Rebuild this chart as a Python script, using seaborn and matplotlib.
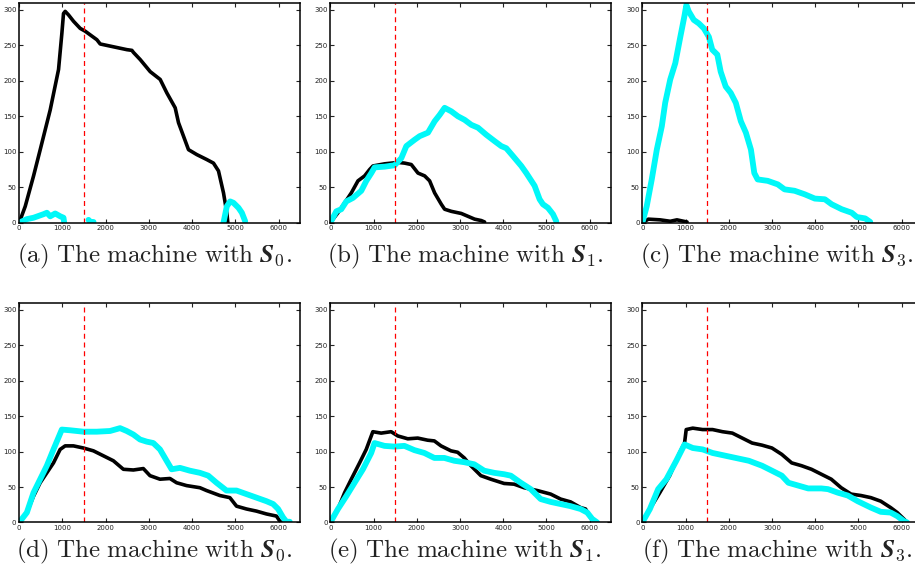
import numpy as np
import pandas as pd
import seaborn as sns
import matplotlib.pyplot as plt

sns.set_style("ticks")
plt.rcParams["mathtext.fontset"] = "cm"
plt.rcParams["font.family"] = ["DejaVu Sans"]

# ---- (a) machine with S0, first run ----
a_black_x = [0, 139, 332, 486, 717, 910, 987, 1025, 1064, 1141, 1257, 1411, 1527, 1797, 1874,
             2183, 2491, 2607, 2645, 2800, 3031, 3262, 3416, 3609, 3686, 3917, 4110, 4341,
             4495, 4611, 4727, 4804, 4827]
a_black_y = [0, 23, 66, 103, 159, 216, 267, 295, 298, 293, 284, 274, 270, 258, 252,
             248, 244, 243, 240, 230, 213, 202, 183, 162, 141, 103, 96, 89,
             84, 73, 42, 14, 0]
a_cyan_x = [0, 177, 332, 563, 640, 717, 833, 949, 1025, 1041,
            1604, 1650, 1720,
            4727, 4804, 4881, 4958, 5074, 5152, 5229]
a_cyan_y = [0, 5, 7, 12, 14, 9, 13, 9, 7, 0,
            4, 1, 1,
            0, 23, 30, 28, 21, 14, 2]
a_cyan_seg = [0] * 10 + [1] * 3 + [2] * 7

# ---- (b) machine with S1, first run ----
b_black_x = [0, 177, 332, 486, 640, 794, 910, 987, 1257, 1566, 1720, 1874, 2028, 2183, 2298,
             2414, 2568, 2645, 2800, 3031, 3185, 3339, 3493, 3570]
b_black_y = [0, 14, 28, 42, 59, 66, 75, 80, 83, 85, 84, 82, 70, 66, 59,
             42, 26, 19, 16, 13, 9, 5, 3, 1]
b_cyan_x = [0, 139, 254, 370, 525, 717, 833, 949, 1025, 1257, 1488, 1643, 1759, 1951, 2067,
            2260, 2414, 2530, 2645, 2800, 2954, 3108, 3262, 3416, 3609, 3802, 3956, 4072,
            4226, 4419, 4535, 4727, 4843, 4920, 5036, 5152, 5229]
b_cyan_y = [0, 16, 19, 30, 35, 45, 59, 70, 78, 79, 81, 91, 108, 117, 122,
            127, 143, 152, 162, 157, 150, 145, 138, 134, 124, 115, 108, 105,
            94, 80, 70, 52, 33, 26, 21, 12, 2]

# ---- (c) machine with S3, first run ----
c_black_x = [0, 140, 412, 646, 801, 1035]
c_black_y = [0, 5, 4, 2, 4, 1]
c_cyan_x = [0, 101, 218, 335, 451, 529, 646, 763, 879, 973, 1019, 1074, 1190, 1307, 1424,
            1540, 1618, 1735, 1813, 1929, 2046, 2163, 2280, 2396, 2513, 2591, 2668, 2902,
            3135, 3291, 3524, 3758, 3991, 4224, 4380, 4613, 4846, 4963, 5158, 5274]
c_cyan_y = [0, 23, 61, 103, 136, 169, 202, 225, 262, 291, 307, 298, 286, 281, 274,
            262, 244, 237, 213, 192, 183, 169, 143, 127, 103, 70, 61, 59,
            54, 47, 45, 40, 34, 33, 26, 19, 14, 8, 6, 1]

# ---- (d) machine with S0, second run ----
d_black_x = [0, 177, 331, 485, 639, 793, 947, 1063, 1255, 1486, 1717, 1948, 2179, 2410, 2641,
             2872, 3026, 3257, 3488, 3642, 3873, 4181, 4335, 4643, 4874, 5028, 5259, 5490,
             5721, 5952, 6029, 6068]
d_black_y = [0, 14, 37, 56, 70, 84, 103, 108, 108, 105, 101, 94, 87, 75, 74,
             76, 66, 61, 62, 56, 52, 49, 45, 38, 35, 23, 19, 16,
             12, 9, 2, 0]
d_cyan_x = [0, 177, 331, 485, 639, 793, 986, 1178, 1486, 1794, 2102, 2333, 2487, 2641, 2795,
            2949, 3103, 3257, 3411, 3527, 3719, 3950, 4181, 4374, 4566, 4797, 5028, 5259,
            5490, 5721, 5875, 5991, 6106, 6183, 6260]
d_cyan_y = [0, 14, 42, 61, 80, 103, 131, 130, 128, 128, 129, 133, 129, 124, 117,
            114, 112, 103, 87, 75, 77, 73, 70, 66, 56, 45, 45, 40,
            35, 30, 26, 19, 7, 1, 1]

# ---- (e) machine with S1, second run ----
e_black_x = [0, 177, 331, 485, 677, 831, 984, 1177, 1407, 1561, 1792, 2023, 2253, 2407, 2561,
             2792, 2946, 3100, 3253, 3484, 3714, 4022, 4253, 4484, 4791, 5099, 5329, 5560,
             5791, 5906, 6021, 6175]
e_black_y = [0, 19, 42, 61, 84, 103, 128, 126, 128, 122, 118, 119, 116, 115, 108,
             101, 99, 91, 80, 66, 61, 55, 54, 49, 45, 40, 33, 29,
             21, 19, 7, 0]
e_cyan_x = [0, 177, 369, 561, 754, 946, 1023, 1254, 1484, 1715, 1946, 2176, 2407, 2638, 2869,
            3099, 3330, 3561, 3791, 4022, 4176, 4407, 4637, 4868, 5099, 5329, 5560, 5791,
            5945, 6060, 6175]
e_cyan_y = [0, 19, 37, 56, 75, 98, 112, 108, 107, 108, 102, 98, 91, 91, 87,
            85, 82, 73, 70, 68, 66, 56, 47, 33, 29, 26, 23, 19,
            14, 5, 0]

# ---- (f) machine with S3, second run ----
f_black_x = [0, 175, 404, 633, 862, 977, 1015, 1167, 1396, 1625, 1854, 2083, 2312, 2541, 2770,
             2999, 3227, 3456, 3685, 3914, 4143, 4372, 4601, 4830, 5059, 5288, 5517, 5745,
             5898, 6051, 6127]
f_black_y = [0, 19, 42, 66, 98, 112, 131, 133, 131, 131, 128, 126, 119, 112, 109,
             105, 96, 84, 80, 75, 68, 61, 49, 40, 38, 35, 30, 21,
             14, 5, 0]
f_cyan_x = [0, 175, 366, 557, 786, 977, 1167, 1396, 1625, 1854, 2159, 2465, 2770, 2999, 3227,
            3380, 3609, 3838, 4143, 4296, 4525, 4754, 4983, 5288, 5517, 5745, 5898, 6051, 6127]
f_cyan_y = [0, 19, 47, 61, 87, 110, 105, 103, 98, 95, 91, 87, 80, 73, 66,
            56, 52, 48, 48, 47, 42, 38, 30, 21, 15, 14, 9, 2, 0]

captions = [r"$\mathrm{(a)\ The\ machine\ with\ }\boldsymbol{S}_0.$",
            r"$\mathrm{(b)\ The\ machine\ with\ }\boldsymbol{S}_1.$",
            r"$\mathrm{(c)\ The\ machine\ with\ }\boldsymbol{S}_3.$",
            r"$\mathrm{(d)\ The\ machine\ with\ }\boldsymbol{S}_0.$",
            r"$\mathrm{(e)\ The\ machine\ with\ }\boldsymbol{S}_1.$",
            r"$\mathrm{(f)\ The\ machine\ with\ }\boldsymbol{S}_3.$"]

switch_time = 1500


def to_frame(x, y, seg=None):
    if seg is None:
        seg = [0] * len(x)
    return pd.DataFrame({"t": x, "v": y, "seg": seg})


panels = [
    (to_frame(a_black_x, a_black_y), to_frame(a_cyan_x, a_cyan_y, a_cyan_seg)),
    (to_frame(b_black_x, b_black_y), to_frame(b_cyan_x, b_cyan_y)),
    (to_frame(c_black_x, c_black_y), to_frame(c_cyan_x, c_cyan_y)),
    (to_frame(d_black_x, d_black_y), to_frame(d_cyan_x, d_cyan_y)),
    (to_frame(e_black_x, e_black_y), to_frame(e_cyan_x, e_cyan_y)),
    (to_frame(f_black_x, f_black_y), to_frame(f_cyan_x, f_cyan_y)),
]

fig = plt.figure(figsize=(9.15, 5.71), dpi=100)

lefts = [0.021, 0.361, 0.702]
width = 0.307
bottoms = [0.610, 0.085]
height = 0.385

for i, (blk, cyn) in enumerate(panels):
    row, col = divmod(i, 3)
    ax = fig.add_axes([lefts[col], bottoms[row], width, height])
    sns.lineplot(data=blk, x="t", y="v", units="seg", estimator=None, sort=False,
                 color="black", linewidth=2.6, ax=ax)
    sns.lineplot(data=cyn, x="t", y="v", units="seg", estimator=None, sort=False,
                 color="#00f8f8", linewidth=4.2, ax=ax, solid_capstyle="round")
    ax.axvline(switch_time, color="red", linestyle=(0, (4, 3)), linewidth=0.9)
    ax.set_xlim(0, 6500)
    ax.set_ylim(0, 310)
    ax.set_xticks(range(0, 6001, 1000))
    ax.set_yticks(range(0, 301, 50))
    ax.set_xlabel("")
    ax.set_ylabel("")
    ax.tick_params(direction="in", top=True, right=True, length=3, width=0.8,
                   labelsize=5, pad=2, colors="#222222")
    for s in ax.spines.values():
        s.set_linewidth(1.1)
        s.set_color("black")
    cx = lefts[col] + width / 2 - 0.006
    cy = 0.541 if row == 0 else 0.0245
    fig.text(cx, cy, captions[i], ha="center", va="baseline", fontsize=18,
             color="#222222")

fig.savefig("out.png", dpi=100)
